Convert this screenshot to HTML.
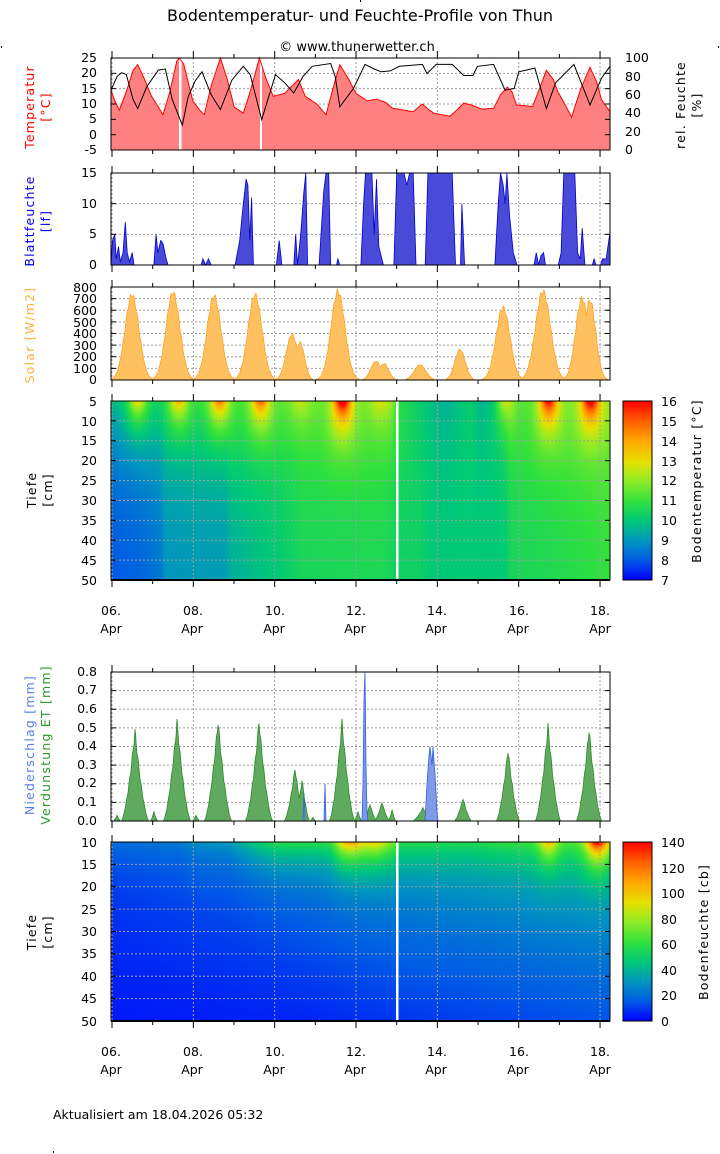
<!DOCTYPE html>
<html><head><meta charset="utf-8"><style>
html,body{margin:0;padding:0;background:#fff;width:720px;height:1154px;overflow:hidden}
#wrap{position:relative;width:720px;height:1154px}
canvas{position:absolute}
svg{position:absolute;left:0;top:0}
text{font-family:"DejaVu Sans","Liberation Sans",sans-serif;font-size:12.5px;fill:#000}
.r{text-anchor:end}.m{text-anchor:middle}
.ls{letter-spacing:1.2px}
</style></head><body><div id="wrap">
<canvas id="c1" width="499" height="179" style="left:111px;top:401px"></canvas>
<canvas id="c2" width="499" height="179" style="left:111px;top:842px"></canvas>
<svg width="720" height="1154" viewBox="0 0 720 1154">
<defs>
<linearGradient id="pal" x1="0" y1="1" x2="0" y2="0">
<stop offset="0" stop-color="rgb(0,0,255)"/><stop offset="0.11" stop-color="rgb(0,90,230)"/><stop offset="0.22" stop-color="rgb(0,150,190)"/><stop offset="0.33" stop-color="rgb(0,200,120)"/><stop offset="0.44" stop-color="rgb(50,225,60)"/><stop offset="0.55" stop-color="rgb(140,235,40)"/><stop offset="0.66" stop-color="rgb(230,225,0)"/><stop offset="0.77" stop-color="rgb(255,170,0)"/><stop offset="0.88" stop-color="rgb(255,100,0)"/><stop offset="1" stop-color="rgb(255,0,0)"/>
</linearGradient>
</defs>
<g id="dyn"></g>
<text x="360" y="21" class="m" style="font-size:16px">Bodentemperatur- und Feuchte-Profile von Thun</text>
<text x="357" y="51" class="m" style="font-size:13px">© www.thunerwetter.ch</text>
<rect x="1" y="46" width="1" height="2" fill="#000"/><rect x="718" y="46" width="1" height="2" fill="#000"/><rect x="360" y="0" width="1" height="2" fill="#000"/><rect x="53" y="1151" width="1" height="2" fill="#000"/>
<g class="r"><text x="97" y="62" class="r">25</text><text x="97" y="77" class="r">20</text><text x="97" y="93" class="r">15</text><text x="97" y="108" class="r">10</text><text x="97" y="123" class="r">5</text><text x="97" y="139" class="r">0</text><text x="97" y="154" class="r">-5</text></g>
<text x="625" y="62">100</text><text x="625" y="81">80</text><text x="625" y="99">60</text><text x="625" y="117">40</text><text x="625" y="136">20</text><text x="625" y="154">0</text>
<text transform="translate(34,107) rotate(-90)" class="m ls" style="fill:#f00">Temperatur</text>
<text transform="translate(50,107) rotate(-90)" class="m ls" style="fill:#f00">[°C]</text>
<text transform="translate(685,105) rotate(-90)" class="m ls">rel. Feuchte</text>
<text transform="translate(701,105) rotate(-90)" class="m ls">[%]</text>
<text x="97" y="177" class="r">15</text><text x="97" y="208" class="r">10</text><text x="97" y="238" class="r">5</text><text x="97" y="269" class="r">0</text>
<text transform="translate(34,221) rotate(-90)" class="m ls" style="fill:#0000e0">Blattfeuchte</text>
<text transform="translate(50,221) rotate(-90)" class="m ls" style="fill:#0000e0">[lf]</text>
<text x="97" y="292" class="r">800</text><text x="97" y="303" class="r">700</text><text x="97" y="315" class="r">600</text><text x="97" y="327" class="r">500</text><text x="97" y="338" class="r">400</text><text x="97" y="350" class="r">300</text><text x="97" y="361" class="r">200</text><text x="97" y="373" class="r">100</text><text x="97" y="384" class="r">0</text>
<text transform="translate(34,335) rotate(-90)" class="m ls" style="fill:#ffb040">Solar [W/m2]</text>
<text x="97" y="406" class="r">5</text><text x="97" y="426" class="r">10</text><text x="97" y="445" class="r">15</text><text x="97" y="465" class="r">20</text><text x="97" y="485" class="r">25</text><text x="97" y="505" class="r">30</text><text x="97" y="525" class="r">35</text><text x="97" y="545" class="r">40</text><text x="97" y="565" class="r">45</text><text x="97" y="585" class="r">50</text>
<text transform="translate(36,490) rotate(-90)" class="m ls">Tiefe</text>
<text transform="translate(52,490) rotate(-90)" class="m ls">[cm]</text>
<rect x="623" y="401" width="29" height="179" fill="url(#pal)" stroke="#000"/>
<text x="661" y="406">16</text><text x="661" y="426">15</text><text x="661" y="446">14</text><text x="661" y="466">13</text><text x="661" y="485">12</text><text x="661" y="505">11</text><text x="661" y="525">10</text><text x="661" y="545">9</text><text x="661" y="565">8</text><text x="661" y="585">7</text>
<text transform="translate(701,481) rotate(-90)" class="m ls">Bodentemperatur [°C]</text>
<g><text x="111" y="615" class="m">06.</text><text x="193" y="615" class="m">08.</text><text x="275" y="615" class="m">10.</text><text x="356" y="615" class="m">12.</text><text x="437" y="615" class="m">14.</text><text x="519" y="615" class="m">16.</text><text x="600" y="615" class="m">18.</text>
<text x="111" y="633" class="m">Apr</text><text x="192" y="633" class="m">Apr</text><text x="274" y="633" class="m">Apr</text><text x="355" y="633" class="m">Apr</text><text x="436" y="633" class="m">Apr</text><text x="518" y="633" class="m">Apr</text><text x="600" y="633" class="m">Apr</text></g>
<text x="97" y="676" class="r">0.8</text><text x="97" y="694" class="r">0.7</text><text x="97" y="713" class="r">0.6</text><text x="97" y="732" class="r">0.5</text><text x="97" y="750" class="r">0.4</text><text x="97" y="769" class="r">0.3</text><text x="97" y="787" class="r">0.2</text><text x="97" y="806" class="r">0.1</text><text x="97" y="825" class="r">0.0</text>
<text transform="translate(34,745) rotate(-90)" class="m ls" style="fill:#5a80e8">Niederschlag [mm]</text>
<text transform="translate(50,745) rotate(-90)" class="m ls" style="fill:#2a9a2a">Verdunstung ET [mm]</text>
<text x="97" y="847" class="r">10</text><text x="97" y="869" class="r">15</text><text x="97" y="891" class="r">20</text><text x="97" y="914" class="r">25</text><text x="97" y="936" class="r">30</text><text x="97" y="958" class="r">35</text><text x="97" y="981" class="r">40</text><text x="97" y="1003" class="r">45</text><text x="97" y="1026" class="r">50</text>
<text transform="translate(36,932) rotate(-90)" class="m ls">Tiefe</text>
<text transform="translate(52,932) rotate(-90)" class="m ls">[cm]</text>
<rect x="623" y="842" width="29" height="179" fill="url(#pal)" stroke="#000"/>
<text x="661" y="847">140</text><text x="661" y="873">120</text><text x="661" y="898">100</text><text x="661" y="924">80</text><text x="661" y="949">60</text><text x="661" y="975">40</text><text x="661" y="1000">20</text><text x="661" y="1026">0</text>
<text transform="translate(708,932) rotate(-90)" class="m ls">Bodenfeuchte [cb]</text>
<g><text x="111" y="1056" class="m">06.</text><text x="193" y="1056" class="m">08.</text><text x="275" y="1056" class="m">10.</text><text x="356" y="1056" class="m">12.</text><text x="437" y="1056" class="m">14.</text><text x="519" y="1056" class="m">16.</text><text x="600" y="1056" class="m">18.</text>
<text x="111" y="1074" class="m">Apr</text><text x="192" y="1074" class="m">Apr</text><text x="274" y="1074" class="m">Apr</text><text x="355" y="1074" class="m">Apr</text><text x="436" y="1074" class="m">Apr</text><text x="518" y="1074" class="m">Apr</text><text x="600" y="1074" class="m">Apr</text></g>
<text x="53" y="1119">Aktualisiert am 18.04.2026 05:32</text>
</svg></div>
<script>
var NS="http://www.w3.org/2000/svg",G=document.getElementById("dyn");
function el(t,a){var e=document.createElementNS(NS,t);for(var k in a)e.setAttribute(k,a[k]);G.appendChild(e);return e;}
var L=111,R=610;
function X(day){return 112+(day-6)*40.67;}
function interp(arr,x){if(x<=arr[0][0])return arr[0][1];for(var i=1;i<arr.length;i++){if(x<=arr[i][0]){var a=arr[i-1],b=arr[i];return a[1]+(b[1]-a[1])*(x-a[0])/(b[0]-a[0]);}}return arr[arr.length-1][1];}
function grid(top,bot,ys){
 for(var d=6;d<=18;d+=2){var x=X(d);el("line",{x1:x,y1:top,x2:x,y2:bot,stroke:"#a0a0a0","stroke-dasharray":"2,2"});}
 ys.forEach(function(y){el("line",{x1:L,y1:y,x2:R,y2:y,stroke:"#a0a0a0","stroke-dasharray":"2,2"});});
}
function frame(top,bot,ys,right){
 el("rect",{x:L,y:top,width:R-L,height:bot-top,fill:"none",stroke:"#000"});
 for(var d=6;d<=18.3;d+=1){var x=X(d),len=(d%2==0)?7:4;
  el("line",{x1:x,y1:bot,x2:x,y2:bot+len,stroke:"#000"});el("line",{x1:x,y1:top,x2:x,y2:top-len,stroke:"#000"});}
 ys.forEach(function(y){el("line",{x1:L,y1:y,x2:L+5,y2:y,stroke:"#000"});if(right!==false)el("line",{x1:R-5,y1:y,x2:R,y2:y,stroke:"#000"});});
}
function areaPath(pts,base){var s="M"+pts[0][0]+","+base;pts.forEach(function(p){s+=" L"+p[0].toFixed(1)+","+p[1].toFixed(1);});return s+" L"+pts[pts.length-1][0]+","+base+" Z";}
function linePath(pts){return "M"+pts.map(function(p){return p[0].toFixed(1)+","+p[1].toFixed(1);}).join(" L");}
var Z=2.178;
var t1=58,b1=150;var ty=function(T){return 58+(25-T)*92/30;};
grid(t1,b1,[ty(20),ty(15),ty(10),ty(5),ty(0)]);
var T=[[241,14.6],[250,11],[260,8],[275,14],[290,21],[300,22.8],[315,18],[330,12.5],[345,9],[355,6.5],[370,14],[385,24],[390,25],[400,23],[420,11],[435,8],[445,6.5],[460,16],[480,25],[495,18],[510,9],[530,7],[545,14],[565,25],[580,18],[595,12.5],[620,13.5],[650,18],[665,12.5],[690,10],[710,6.5],[725,15],[740,22.8],[760,18],[775,13.5],[800,11],[820,11.6],[840,10.5],[855,8.6],[880,8],[900,7.5],[920,10],[935,8],[945,7],[980,6],[995,8],[1010,10.3],[1030,9.5],[1050,8.3],[1075,8.6],[1090,13],[1105,15.5],[1115,14],[1125,9.7],[1160,9.2],[1175,15],[1190,21],[1205,18],[1215,14],[1230,10],[1245,5.7],[1265,15],[1285,22],[1300,17],[1310,11.4],[1330,7.5]];
var tp=T.map(function(p){return [p[0]/Z,ty(p[1])];});tp[0][0]=L;tp[tp.length-1][0]=R;
el("path",{d:areaPath(tp,b1),fill:"#ff8080"});
el("rect",{x:179,y:58,width:2.5,height:92,fill:"#fff"});el("rect",{x:260,y:58,width:2,height:92,fill:"#fff"});
el("path",{d:linePath(tp),fill:"none",stroke:"#f00","stroke-width":1});
var H=[[241,65],[255,80],[265,84],[275,82],[290,55],[300,45],[320,69],[345,87],[360,88],[375,55],[397,27],[410,58],[425,75],[440,85],[460,60],[480,44],[505,76],[530,91],[545,82],[570,33],[600,82],[620,73],[640,62],[660,80],[680,91],[720,94],[730,80],[740,47],[770,67],[795,93],[815,88],[830,85],[850,86],[870,91],[920,93],[930,83],[950,93],[985,93],[1010,81],[1030,81],[1040,91],[1075,93],[1100,65],[1120,67],[1130,85],[1165,89],[1190,45],[1210,73],[1250,93],[1285,49],[1310,78],[1330,91]];
var hp=H.map(function(p){return [p[0]/Z,150-p[1]*0.92];});hp[0][0]=L;hp[hp.length-1][0]=R;
el("path",{d:linePath(hp),fill:"none",stroke:"#000","stroke-width":1});
frame(t1,b1,[ty(20),ty(15),ty(10),ty(5),ty(0)]);
var t2=173,b2=265,by=function(v){return 265-v*92/15;};
grid(t2,b2,[by(10),by(5)]);
var B=[[241,0],[245,4],[250,5],[253,1],[258,3],[262,0.5],[268,2],[273,7],[277,2],[282,0.5],[288,2],[292,0],[335,0],[340,5],[344,2],[350,4],[355,3.5],[362,1],[366,0],[438,0],[442,1],[448,0],[454,1],[460,0],[512,0],[522,4],[530,10],[536,14],[540,13],[544,4],[548,11],[552,0],[602,0],[608,4],[614,0],[640,0],[644,5],[648,0],[655,5],[662,12],[666,15],[670,0],[695,0],[705,12],[710,15],[716,15],[720,0],[733,0],[736,1],[740,0],[786,0],[792,10],[796,15],[810,15],[815,5],[820,14],[825,3],[835,0],[858,0],[864,15],[880,15],[886,13],[892,15],[900,15],[906,0],[926,0],[932,15],[985,15],[992,0],[1003,0],[1006,10],[1012,0],[1078,0],[1085,10],[1090,15],[1096,13],[1100,10],[1104,15],[1110,8],[1118,2],[1126,0],[1163,0],[1168,2],[1173,0],[1178,1.5],[1184,2],[1188,0],[1216,0],[1222,2],[1228,15],[1252,15],[1258,2],[1264,1],[1268,6],[1274,0],[1290,0],[1294,1],[1298,0],[1308,0],[1312,1],[1320,1],[1326,4],[1330,5.5]];
var bp=B.map(function(p){return [Math.min(R,Math.max(L,p[0]/Z)),by(p[1])];});
el("path",{d:areaPath(bp,b2),fill:"#4a4ad8",stroke:"#0000d0","stroke-width":0.8});
frame(t2,b2,[by(10),by(5)]);
var t3=287,b3=380,sy=function(v){return 380-v*93/800;};
grid(t3,b3,[100,200,300,400,500,600,700].map(sy));
var S=[[132,730,12],[173,750,12],[214,720,12],[255,730,12],[292,390,10],[300,320,8],[338,760,12],[376,160,9],[384,140,8],[420,130,10],[460,260,9],[503,620,12],[543,760,13],[582,700,11],[590,680,10]];
var sp=[];for(var x=L;x<=R;x+=0.5){var v=0;S.forEach(function(p){var u=(x-p[0])/p[2];v=Math.max(v,p[1]*Math.exp(-u*u*1.5)*(1+0.03*Math.sin(x*1.7)));});if(v<6)v=0;sp.push([x,sy(v)]);}
el("path",{d:areaPath(sp,b3),fill:"#ffc060",stroke:"#ffa020","stroke-width":0.8});
frame(t3,b3,[100,200,300,400,500,600,700].map(sy));
var PAL=[[0,0,0,255],[0.11,0,90,230],[0.22,0,150,190],[0.33,0,200,120],[0.44,50,225,60],[0.55,140,235,40],[0.66,230,225,0],[0.77,255,170,0],[0.88,255,100,0],[1,255,0,0]];
function col(t){t=Math.max(0,Math.min(1,t));for(var i=1;i<PAL.length;i++){if(t<=PAL[i][0]){var a=PAL[i-1],b=PAL[i],f=(t-a[0])/(b[0]-a[0]);return [a[1]+(b[1]-a[1])*f,a[2]+(b[2]-a[2])*f,a[3]+(b[3]-a[3])*f];}}return [255,0,0];}
(function(){
 var c=document.getElementById("c1").getContext("2d"),img=c.createImageData(499,179);
 var deep=[[111,7.9],[140,8.1],[160,8.4],[165,8.9],[200,9.0],[225,9.0],[230,9.4],[280,10],[300,10.4],[380,10.5],[395,10.3],[420,10.3],[430,10],[505,10],[510,10.4],[560,10.6],[610,10.9]];
 var surf=[[111,9.8],[200,11],[300,11.6],[390,11.9],[400,10.8],[430,9.8],[445,9.5],[470,10.2],[480,9.6],[495,9.8],[510,11.2],[560,11.8],[610,12.2]];
 var pk=[[137,3],[178,3],[219,3.5],[260,3.5],[300,1],[342,5],[380,1],[504,2],[548,4.5],[590,4.5]];
 for(var py=0;py<179;py++){var d=5+py/179*45;for(var px=0;px<499;px++){var x=111+px;
  var dp=interp(deep,x),sf=interp(surf,x);var t=dp+(sf-dp)*Math.exp(-(d-5)/14);
  pk.forEach(function(p){var w=9+(d-5)*0.6;var u=(x-p[0])/w;t+=p[1]*Math.exp(-u*u)*Math.exp(-(d-5)/6);});
  var cc=col((t-7)/9),i=(py*499+px)*4;img.data[i]=cc[0];img.data[i+1]=cc[1];img.data[i+2]=cc[2];img.data[i+3]=255;}}
 c.putImageData(img,0,0);
})();
(function(){
 var c=document.getElementById("c2").getContext("2d"),img=c.createImageData(499,179);
 var surf=[[111,20],[180,24],[190,28],[230,32],[255,48],[275,58],[330,58],[340,70],[395,72],[400,58],[470,56],[500,60],[540,64],[610,70]];
 var lo=[[111,4],[300,6],[400,9],[610,14]],mid=[[111,9],[250,14],[400,24],[610,32]];
 var pk=[[350,40,14],[375,25,12],[548,40,9],[597,75,11]];
 for(var py=0;py<179;py++){var d=10+py/179*40;for(var px=0;px<499;px++){var x=111+px;
  var l=interp(lo,x),m=interp(mid,x);var b=l+(m-l)*Math.max(0,Math.min(1.2,(50-d)/30));
  var s=interp(surf,x);var v=b+Math.max(0,s-b)*Math.exp(-(d-10)/5.5);
  pk.forEach(function(p){var u=(x-p[0])/(p[2]+(d-10)*0.4);v+=p[1]*Math.exp(-u*u)*Math.exp(-(d-10)/4);});
  var cc=col(v/140),i=(py*499+px)*4;img.data[i]=cc[0];img.data[i+1]=cc[1];img.data[i+2]=cc[2];img.data[i+3]=255;}}
 c.putImageData(img,0,0);
})();
var d1=[10,15,20,25,30,35,40,45].map(function(v){return 401+(v-5)*179/45;});
grid(401,580,d1);
el("rect",{x:396,y:401,width:2.5,height:179,fill:"#fff"});
frame(401,580,d1,true);
el("line",{x1:L,y1:580,x2:R,y2:580,stroke:"#000","stroke-width":2});
[401,421,441,461,481,500,520,540,560].forEach(function(y){el("line",{x1:623,y1:y,x2:628,y2:y,stroke:"#000"});el("line",{x1:647,y1:y,x2:652,y2:y,stroke:"#000"});});
var t5=672,b5=821,ey=function(v){return 821-v*149/0.8;};
var e5=[0.1,0.2,0.3,0.4,0.5,0.6,0.7].map(ey);
grid(t5,b5,e5);
var E=[[117,0.03,4],[135,0.48,14],[154,0.05,4],[177,0.53,14],[196,0.03,4],[218,0.53,14],[259,0.53,14],[295,0.28,11],[302,0.22,8],[313,0.02,3],[342,0.53,13],[358,0.05,4],[370,0.09,7],[382,0.1,8],[392,0.06,4],[423,0.07,11],[463,0.12,9],[508,0.38,12],[548,0.51,13],[589,0.49,13]];
var ep=[];for(var x=L;x<=R;x+=0.5){var v=0;E.forEach(function(p){var u=Math.abs(x-p[0])/p[2];var f=u<1?Math.pow(1-u,1.6):0;v=Math.max(v,p[1]*f*(1+0.04*Math.sin(x*2.1)));});if(v<0.004)v=0;ep.push([x,ey(v)]);}
el("path",{d:areaPath(ep,b5),fill:"#60aa60",stroke:"#2a8a2a","stroke-width":0.8});
var P=[[303,0],[304,0.15],[305,0],[324,0],[325,0.2],[326,0],[362,0],[363,0.2],[364,0.65],[365,0.8],[366,0.3],[367,0.05],[368,0],[425,0],[427,0.2],[429,0.35],[430,0.4],[432,0.3],[433,0.4],[435,0.25],[437,0.05],[438,0]];
el("path",{d:areaPath(P.map(function(p){return [p[0],ey(p[1])];}),b5),fill:"#7f9be8",stroke:"#3060e0","stroke-width":0.8});
frame(t5,b5,e5);
var d2=[15,20,25,30,35,40,45].map(function(v){return 842+(v-10)*179/40;});
grid(842,1021,d2);
el("rect",{x:396,y:842,width:2.5,height:179,fill:"#fff"});
frame(842,1021,d2);
el("line",{x1:L,y1:1021,x2:R,y2:1021,stroke:"#000","stroke-width":2});
[868,893,919,944,970,996].forEach(function(y){el("line",{x1:623,y1:y,x2:628,y2:y,stroke:"#000"});el("line",{x1:647,y1:y,x2:652,y2:y,stroke:"#000"});});
</script>
</body></html>
